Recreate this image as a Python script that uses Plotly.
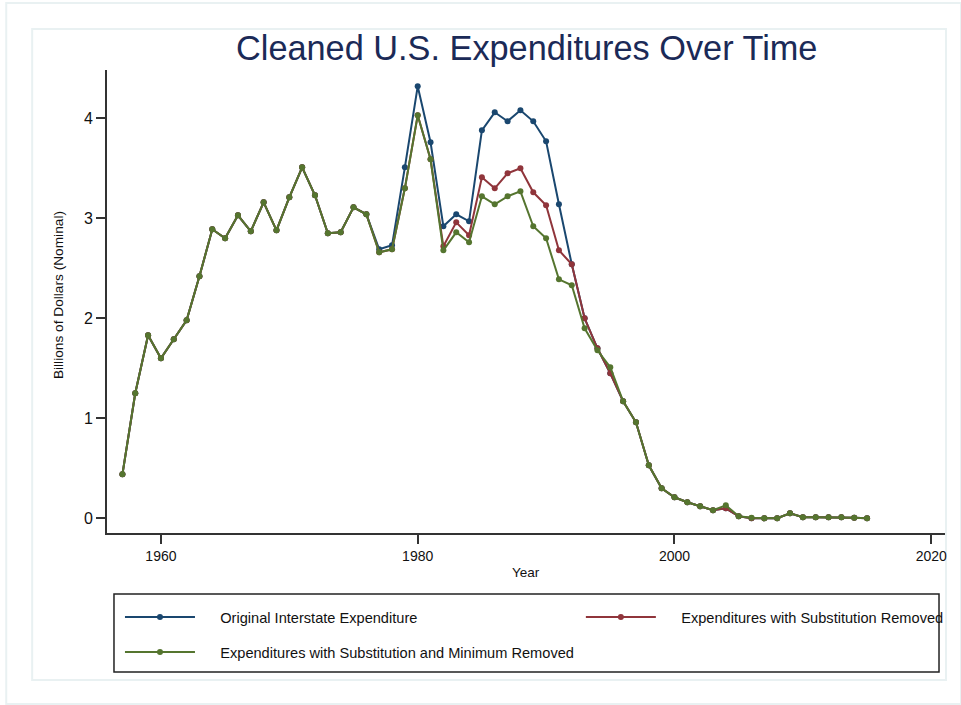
#!/usr/bin/env python3
"""Cleaned U.S. expenditures over time, Stata-style line chart in Plotly."""

import plotly.graph_objects as go

# ---- data ---------------------------------------------------------------
years = list(range(1957, 2016))

original = [
    0.44, 1.25, 1.83, 1.60, 1.79, 1.98, 2.42, 2.89, 2.80, 3.03,
    2.87, 3.16, 2.88, 3.21, 3.51, 3.23, 2.85, 2.86, 3.11, 3.04,
    2.69, 2.73, 3.51, 4.32, 3.76, 2.92, 3.04, 2.97, 3.88, 4.06,
    3.97, 4.08, 3.97, 3.77, 3.14, 2.54, 2.00, 1.70, 1.45, 1.17,
    0.96, 0.53, 0.30, 0.21, 0.16, 0.12, 0.08, 0.10, 0.02, 0.00,
    0.00, 0.00, 0.05, 0.01, 0.01, 0.01, 0.01, 0.005, 0.00,
]
subst_removed = [
    0.44, 1.25, 1.83, 1.60, 1.79, 1.98, 2.42, 2.89, 2.80, 3.03,
    2.87, 3.16, 2.88, 3.21, 3.51, 3.23, 2.85, 2.86, 3.11, 3.04,
    2.66, 2.69, 3.30, 4.03, 3.59, 2.72, 2.96, 2.83, 3.41, 3.30,
    3.45, 3.50, 3.26, 3.13, 2.68, 2.54, 2.00, 1.70, 1.45, 1.17,
    0.96, 0.53, 0.30, 0.21, 0.16, 0.12, 0.08, 0.10, 0.02, 0.00,
    0.00, 0.00, 0.05, 0.01, 0.01, 0.01, 0.01, 0.005, 0.00,
]
subst_min_removed = [
    0.44, 1.25, 1.83, 1.60, 1.79, 1.98, 2.42, 2.89, 2.80, 3.03,
    2.87, 3.16, 2.88, 3.21, 3.51, 3.23, 2.85, 2.86, 3.11, 3.04,
    2.66, 2.69, 3.30, 4.03, 3.59, 2.68, 2.86, 2.76, 3.22, 3.14,
    3.22, 3.27, 2.92, 2.80, 2.39, 2.33, 1.90, 1.68, 1.51, 1.17,
    0.96, 0.53, 0.30, 0.21, 0.16, 0.12, 0.08, 0.13, 0.02, 0.005,
    0.00, 0.00, 0.05, 0.01, 0.01, 0.01, 0.01, 0.005, 0.00,
]

series_names = [
    "Original Interstate Expenditure",
    "Expenditures with Substitution Removed",
    "Expenditures with Substitution and Minimum Removed",
]
series_values = [original, subst_removed, subst_min_removed]
series_colors = ["#1a476f", "#90353b", "#55752f"]
series_legends = ["legend", "legend2", "legend"]

# ---- geometry (pixels in the 961x705 page) ------------------------------
W, H = 961, 705
L, R, T, B = 107, 14, 70, 172
PW, PH = W - L - R, H - T - B
FONT = "Liberation Sans, Arial, Helvetica, sans-serif"
AXIS_COLOR = "#333333"
PAD = "\u00a0" * 5  # gap between legend key and label


def px_x(x):
    """Page pixel x -> paper coordinate."""
    return (x - L) / PW


def px_y(y):
    """Page pixel y -> paper coordinate."""
    return (H - B - y) / PH


fig = go.Figure()

for name, vals, color, leg in zip(
    series_names, series_values, series_colors, series_legends
):
    fig.add_trace(
        go.Scatter(
            x=years,
            y=vals,
            mode="lines+markers",
            name=PAD + name,
            legend=leg,
            legendgroup=name,
            line=dict(color=color, width=2),
            marker=dict(color=color, size=6),
        )
    )

# frames of the Stata graph region
shapes = [
    dict(
        type="rect", xref="paper", yref="paper",
        x0=px_x(6), x1=px_x(963), y0=px_y(704), y1=px_y(3),
        line=dict(color="#e9f1f2", width=2), layer="below",
    ),
    dict(
        type="rect", xref="paper", yref="paper",
        x0=px_x(32), x1=px_x(948), y0=px_y(680), y1=px_y(29),
        line=dict(color="#e9f1f2", width=2), layer="below",
    ),
    # legend box
    dict(
        type="rect", xref="paper", yref="paper",
        x0=px_x(114), x1=px_x(941), y0=px_y(672), y1=px_y(594),
        line=dict(color="#222222", width=1.5),
    ),
]

annotations = [
    dict(
        xref="paper", yref="paper",
        x=0.5, y=px_y(48),
        xanchor="center", yanchor="middle",
        text="Cleaned U.S. Expenditures Over Time",
        font=dict(family=FONT, size=34.3, color="#1b2a57"),
        showarrow=False,
    ),
    dict(
        xref="paper", yref="paper",
        x=0.5, y=px_y(572),
        xanchor="center", yanchor="middle",
        text="Year",
        font=dict(family=FONT, size=13.5, color="#111111"),
        showarrow=False,
    ),
    dict(
        xref="paper", yref="paper",
        x=px_x(58), y=px_y(295),
        xanchor="center", yanchor="middle",
        text="Billions of Dollars (Nominal)",
        textangle=-90,
        font=dict(family=FONT, size=13.7, color="#111111"),
        showarrow=False,
    ),
]

legend_style = dict(
    orientation="v",
    xanchor="left",
    yanchor="top",
    bgcolor="rgba(0,0,0,0)",
    borderwidth=0,
    itemwidth=70,
    tracegroupgap=13,
    font=dict(family=FONT, size=14.6, color="#111111"),
    itemclick=False,
)

fig.update_layout(
    width=W,
    height=H,
    autosize=False,
    paper_bgcolor="white",
    plot_bgcolor="white",
    margin=dict(l=L, r=R, t=T, b=B, pad=0),
    showlegend=True,
    legend=dict(x=px_x(120), y=px_y(601), **legend_style),
    legend2=dict(x=px_x(582), y=px_y(601), **legend_style),
    shapes=shapes,
    annotations=annotations,
    xaxis=dict(
        range=[1955.8, 2021.07],
        tickvals=[1960, 1980, 2000, 2020],
        ticks="outside",
        ticklen=9,
        tickwidth=1.5,
        tickcolor=AXIS_COLOR,
        showline=True,
        linecolor=AXIS_COLOR,
        linewidth=2,
        showgrid=False,
        zeroline=False,
        tickfont=dict(family=FONT, size=14, color="#111111"),
    ),
    yaxis=dict(
        range=[-0.147, 4.483],
        tickvals=[0, 1, 2, 3, 4],
        ticks="outside",
        ticklen=9,
        tickwidth=1.5,
        tickcolor=AXIS_COLOR,
        showline=True,
        linecolor=AXIS_COLOR,
        linewidth=2,
        showgrid=False,
        zeroline=False,
        tickfont=dict(family=FONT, size=16, color="#111111"),
    ),
)

# drop the browser's default body margin so the figure sits at the page origin
fig.write_html(
    "out.html",
    config={"displayModeBar": False},
    post_script="document.body.style.margin = '0';",
)
